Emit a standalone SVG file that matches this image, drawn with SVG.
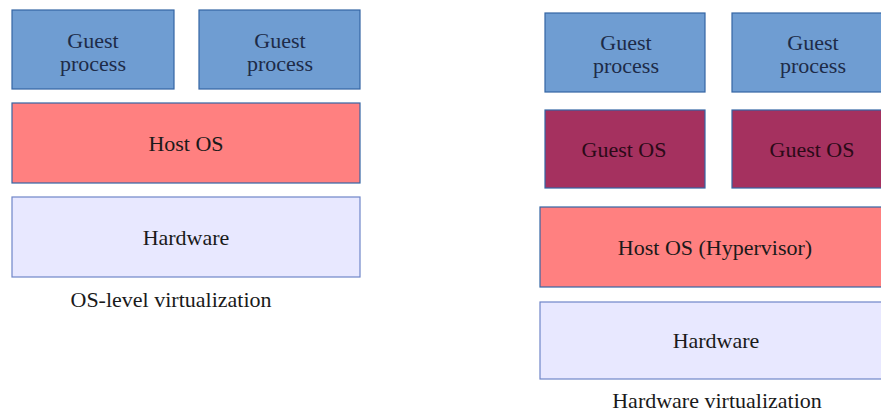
<svg xmlns="http://www.w3.org/2000/svg" width="881" height="414" viewBox="0 0 881 414">
  <style>
    .box { stroke: #3465a4; stroke-width: 1.2; }
    .proc { fill: #6f9dd2; }
    .host { fill: #ff8080; }
    .gos { fill: #a5315f; }
    .hw { fill: #e8e8ff; stroke: #6f85c8; }
    text { font-family: "Liberation Serif", "Times New Roman", serif; font-size: 22px; text-anchor: middle; fill: #1a1a1a; }
    .ptxt { fill: #1d2b48; }
    .gtxt { fill: #2b0a18; }
  </style>
  <rect width="881" height="414" fill="#ffffff"/>

  <!-- OS-level virtualization stack -->
  <g id="left-guest-process-1">
    <rect class="box proc" x="12" y="10" width="162" height="79"/>
    <text class="ptxt" x="93" y="48">Guest</text>
    <text class="ptxt" x="93" y="71">process</text>
  </g>
  <g id="left-guest-process-2">
    <rect class="box proc" x="199" y="10" width="161" height="79"/>
    <text class="ptxt" x="280" y="48">Guest</text>
    <text class="ptxt" x="280" y="71">process</text>
  </g>
  <g id="left-host-os">
    <rect class="box host" x="12" y="103" width="348" height="80"/>
    <text x="186" y="151">Host OS</text>
  </g>
  <g id="left-hardware">
    <rect class="box hw" x="12" y="197" width="348" height="80"/>
    <text x="186" y="245">Hardware</text>
  </g>
  <g id="left-caption">
    <text x="171" y="307">OS-level virtualization</text>
  </g>

  <!-- Hardware virtualization stack -->
  <g id="right-guest-process-1">
    <rect class="box proc" x="545" y="13" width="160" height="79"/>
    <text class="ptxt" x="626" y="50">Guest</text>
    <text class="ptxt" x="626" y="73">process</text>
  </g>
  <g id="right-guest-process-2">
    <rect class="box proc" x="732" y="13" width="160" height="79"/>
    <text class="ptxt" x="813" y="50">Guest</text>
    <text class="ptxt" x="813" y="73">process</text>
  </g>
  <g id="right-guest-os-1">
    <rect class="box gos" x="545" y="110" width="160" height="78"/>
    <text class="gtxt" x="624" y="157">Guest OS</text>
  </g>
  <g id="right-guest-os-2">
    <rect class="box gos" x="732" y="110" width="160" height="78"/>
    <text class="gtxt" x="812" y="157">Guest OS</text>
  </g>
  <g id="right-host-os">
    <rect class="box host" x="540" y="207" width="350" height="80"/>
    <text x="715" y="255">Host OS (Hypervisor)</text>
  </g>
  <g id="right-hardware">
    <rect class="box hw" x="540" y="302" width="350" height="77"/>
    <text x="716" y="348">Hardware</text>
  </g>
  <g id="right-caption">
    <text x="717" y="408">Hardware virtualization</text>
  </g>

  <g id="connectors"/>
</svg>
